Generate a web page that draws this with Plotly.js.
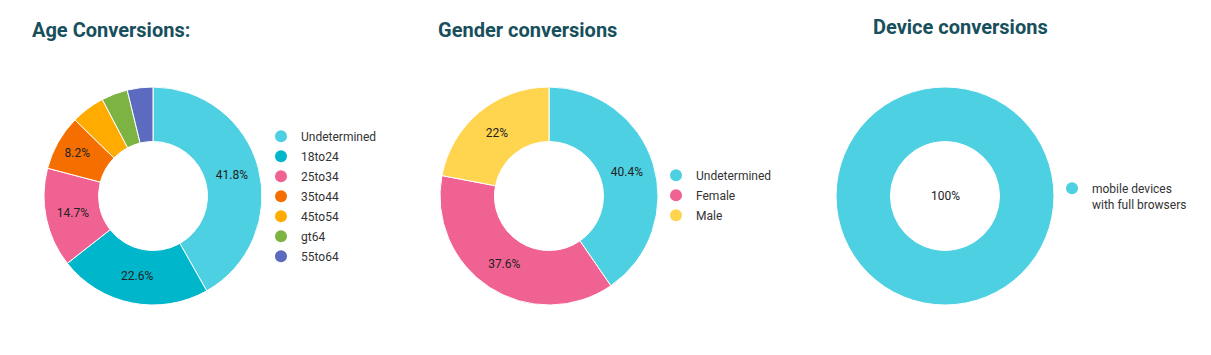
<!DOCTYPE html>
<html>
<head>
<meta charset="utf-8">
<script src="https://cdn.plot.ly/plotly-3.0.1.min.js"></script>
<style>html,body{margin:0;padding:0;background:#fff;}#chart{width:1211px;height:355px;}</style>
</head>
<body>
<div id="chart"></div>
<script>
const ageLabels = ['Undetermined', '18to24', '25to34', '35to44', '45to54', 'gt64', '55to64'];
const ageValues = [41.8, 22.6, 14.7, 8.2, 5.0, 3.9, 3.8];
const ageColors = ['#4dd0e1', '#00b6cb', '#f06292', '#f56f00', '#ffab00', '#7cb342', '#5c6bc0'];

const genderLabels = ['Undetermined', 'Female', 'Male'];
const genderValues = [40.4, 37.6, 22.0];
const genderColors = ['#4dd0e1', '#f06292', '#ffd54f'];

const deviceLabels = ['mobile devices<br>with full browsers'];
const deviceValues = [100];
const deviceColors = ['#4dd0e1'];

const titles = ['Age Conversions:', 'Gender conversions', 'Device conversions'];

const W = 1211, H = 355;
const px = v => v / W;
const py = v => 1 - v / H;

function pctLabel(v, total) {
  return parseFloat((100 * v / total).toPrecision(3)) + '%';
}
function pieTexts(values, minShare) {
  const total = values.reduce((a, b) => a + b, 0);
  return values.map(v => (v / total >= minShare ? pctLabel(v, total) : ''));
}

function makePie(labels, values, colors, cx, showText) {
  return {
    type: 'pie',
    labels: labels,
    values: values,
    marker: {colors: colors, line: {color: '#ffffff', width: 1}},
    hole: 0.5,
    sort: false,
    direction: 'clockwise',
    rotation: 0,
    text: showText ? pieTexts(values, 0.06) : values.map(() => ''),
    textinfo: 'text',
    textposition: 'inside',
    insidetextorientation: 'horizontal',
    insidetextfont: {family: 'Roboto, sans-serif', size: 12, color: '#222222'},
    hoverinfo: 'none',
    showlegend: false,
    domain: {x: [px(cx - 109), px(cx + 109)], y: [1 - 305 / H, 1 - 87 / H]}
  };
}

function legendTraces(labels, colors, legendId) {
  return labels.map((l, i) => ({
    type: 'scatter',
    mode: 'markers',
    x: [null], y: [null],
    name: l,
    marker: {symbol: 'circle', size: 12, color: colors[i]},
    legend: legendId,
    legendgroup: legendId + '_' + i,
    hoverinfo: 'none',
    showlegend: true
  }));
}

const data = [
  makePie(ageLabels, ageValues, ageColors, 153, true),
  makePie(genderLabels, genderValues, genderColors, 549, true),
  makePie(deviceLabels, deviceValues, deviceColors, 945, false)
].concat(
  legendTraces(ageLabels, ageColors, 'legend'),
  legendTraces(genderLabels, genderColors, 'legend2'),
  legendTraces(deviceLabels, deviceColors, 'legend3')
);

const legendFont = {family: 'Roboto, sans-serif', size: 12, color: '#333333'};
function legendAt(x, y) {
  return {x: px(x), y: py(y), xanchor: 'left', yanchor: 'top', font: legendFont,
          bgcolor: 'rgba(0,0,0,0)', borderwidth: 0, traceorder: 'grouped',
          tracegroupgap: 1, valign: 'top', itemclick: false, itemdoubleclick: false};
}

const titleFont = {family: 'Roboto, sans-serif', size: 20, color: '#174f5c', weight: 700};
const deviceTotal = deviceValues.reduce((a, b) => a + b, 0);

const layout = {
  width: W, height: H,
  margin: {l: 0, r: 0, t: 0, b: 0},
  paper_bgcolor: '#ffffff', plot_bgcolor: '#ffffff',
  font: {family: 'Roboto, sans-serif'},
  xaxis: {visible: false}, yaxis: {visible: false},
  legend: legendAt(261, 122),
  legend2: legendAt(656, 161),
  legend3: legendAt(1052, 174),
  annotations: [
    {text: '<b>' + titles[0] + '</b>', x: px(30), y: py(30), xref: 'paper', yref: 'paper', xanchor: 'left', yanchor: 'middle', showarrow: false, font: titleFont},
    {text: '<b>' + titles[1] + '</b>', x: px(436), y: py(30), xref: 'paper', yref: 'paper', xanchor: 'left', yanchor: 'middle', showarrow: false, font: titleFont},
    {text: '<b>' + titles[2] + '</b>', x: px(871), y: py(27), xref: 'paper', yref: 'paper', xanchor: 'left', yanchor: 'middle', showarrow: false, font: titleFont},
    {text: pctLabel(deviceValues[0], deviceTotal), x: px(945), y: py(196), xref: 'paper', yref: 'paper', xanchor: 'center', yanchor: 'middle', showarrow: false, font: {family: 'Roboto, sans-serif', size: 12, color: '#222222'}}
  ]
};

Plotly.newPlot('chart', data, layout, {displayModeBar: false, staticPlot: true});
</script>
</body>
</html>
